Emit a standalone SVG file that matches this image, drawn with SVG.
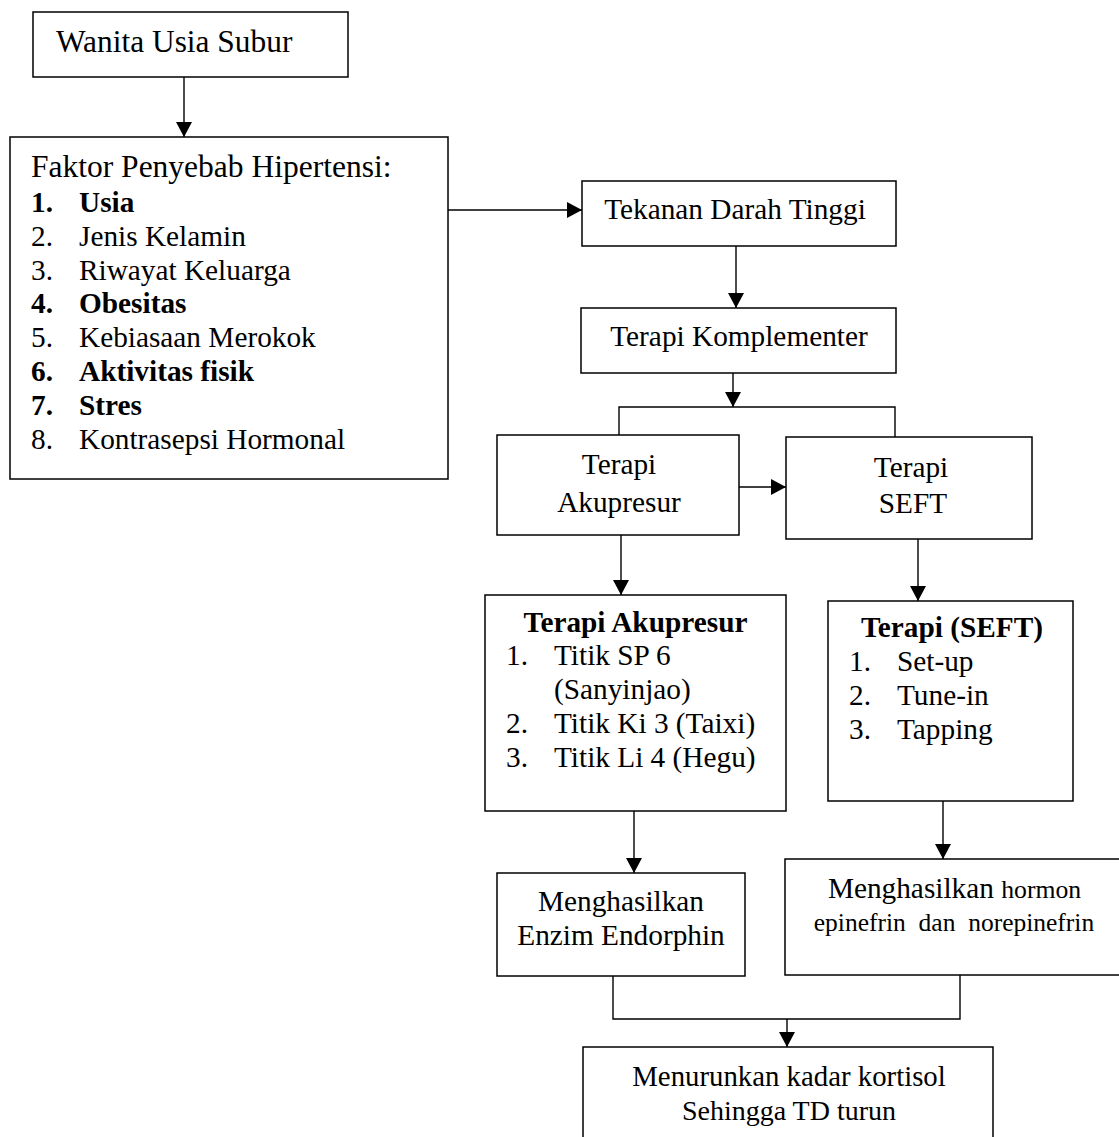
<svg xmlns="http://www.w3.org/2000/svg" width="1119" height="1137" viewBox="0 0 1119 1137">
<style>
.box{fill:#fff;stroke:#000;stroke-width:1.5}
.ln{fill:none;stroke:#000;stroke-width:1.4}
text{font-family:"Liberation Serif","Times New Roman",serif;fill:#000}
.l{font-size:29.3px}
.r{font-size:29.3px}
.c{text-anchor:middle}
.b{font-weight:bold}
</style>
<defs>
<marker id="ah" viewBox="0 0 15 16" refX="15" refY="8" markerWidth="15" markerHeight="16" markerUnits="userSpaceOnUse" orient="auto">
<path d="M0,0 L15,8 L0,16 Z" fill="#000"/>
</marker>
</defs>
<rect width="1119" height="1137" fill="#fff"/>
<g id="connectors">
<path class="ln" d="M184,77 V137" marker-end="url(#ah)"/>
<path class="ln" d="M447,210 H582" marker-end="url(#ah)"/>
<path class="ln" d="M736,246 V308" marker-end="url(#ah)"/>
<path class="ln" d="M733,373 V407" marker-end="url(#ah)"/>
<path class="ln" d="M619,436 V407 H895 V437"/>
<path class="ln" d="M739,487 H786" marker-end="url(#ah)"/>
<path class="ln" d="M621,535 V595" marker-end="url(#ah)"/>
<path class="ln" d="M918,539 V601" marker-end="url(#ah)"/>
<path class="ln" d="M634,811 V873" marker-end="url(#ah)"/>
<path class="ln" d="M943,801 V859" marker-end="url(#ah)"/>
<path class="ln" d="M613,976 V1019 H960 V975"/>
<path class="ln" d="M787,1019 V1047" marker-end="url(#ah)"/>
</g>
<g id="wanita">
<rect class="box" x="33" y="12" width="315" height="65"/>
<text x="56" y="52" style="font-size:31.4px">Wanita Usia Subur</text>
</g>
<g id="faktor">
<rect class="box" x="10" y="137" width="438" height="342"/>
<text x="31" y="177" style="font-size:31.5px">Faktor Penyebab Hipertensi:</text>
<text class="l b" x="31" y="212">1.</text><text class="l b" x="79" y="212">Usia</text>
<text class="l" x="31" y="245.8">2.</text><text class="l" x="79" y="245.8">Jenis Kelamin</text>
<text class="l" x="31" y="279.6">3.</text><text class="l" x="79" y="279.6">Riwayat Keluarga</text>
<text class="l b" x="31" y="313.4">4.</text><text class="l b" x="79" y="313.4">Obesitas</text>
<text class="l" x="31" y="347.2">5.</text><text class="l" x="79" y="347.2">Kebiasaan Merokok</text>
<text class="l b" x="31" y="381">6.</text><text class="l b" x="79" y="381">Aktivitas fisik</text>
<text class="l b" x="31" y="414.8">7.</text><text class="l b" x="79" y="414.8">Stres</text>
<text class="l" x="31" y="448.6">8.</text><text class="l" x="79" y="448.6">Kontrasepsi Hormonal</text>
</g>
<g id="tekanan">
<rect class="box" x="582" y="181" width="314" height="65"/>
<text class="r c" x="735" y="219">Tekanan Darah Tinggi</text>
</g>
<g id="komplementer">
<rect class="box" x="581" y="308" width="315" height="65"/>
<text class="r c" x="739" y="346">Terapi Komplementer</text>
</g>
<g id="akupresur">
<rect class="box" x="497" y="435" width="242" height="100"/>
<text class="r c" x="619" y="474">Terapi</text>
<text class="r c" x="619" y="512">Akupresur</text>
</g>
<g id="seft">
<rect class="box" x="786" y="437" width="246" height="102"/>
<text class="r c" x="911" y="477">Terapi</text>
<text class="r c" x="913" y="513">SEFT</text>
</g>
<g id="akupresur-list">
<rect class="box" x="485" y="595" width="301" height="216"/>
<text class="r c b" x="635.5" y="632">Terapi Akupresur</text>
<text class="r" x="506" y="665">1.</text><text class="r" x="554" y="665">Titik SP 6</text>
<text class="r" x="554" y="699">(Sanyinjao)</text>
<text class="r" x="506" y="733">2.</text><text class="r" x="554" y="733">Titik Ki 3 (Taixi)</text>
<text class="r" x="506" y="767">3.</text><text class="r" x="554" y="767">Titik Li 4 (Hegu)</text>
</g>
<g id="seft-list">
<rect class="box" x="828" y="601" width="245" height="200"/>
<text class="r c b" x="952" y="637">Terapi (SEFT)</text>
<text class="r" x="849" y="671">1.</text><text class="r" x="897" y="671">Set-up</text>
<text class="r" x="849" y="705">2.</text><text class="r" x="897" y="705">Tune-in</text>
<text class="r" x="849" y="739">3.</text><text class="r" x="897" y="739">Tapping</text>
</g>
<g id="enzim">
<rect class="box" x="497" y="873" width="248" height="103"/>
<text class="r c" x="621" y="911">Menghasilkan</text>
<text class="r c" x="621" y="945">Enzim Endorphin</text>
</g>
<g id="hormon">
<rect class="box" x="785" y="859" width="345" height="116"/>
<text class="c" x="954.5" y="898" style="font-size:29.3px">Menghasilkan <tspan style="font-size:25.7px">hormon</tspan></text>
<text class="c" x="954" y="931" style="font-size:25.5px;white-space:pre" xml:space="preserve">epinefrin  dan  norepinefrin</text>
</g>
<g id="kortisol">
<rect class="box" x="583" y="1047" width="410" height="110"/>
<text class="c" x="789" y="1086" style="font-size:28.8px">Menurunkan kadar kortisol</text>
<text class="c" x="789" y="1120" style="font-size:28px">Sehingga TD turun</text>
</g>
</svg>
